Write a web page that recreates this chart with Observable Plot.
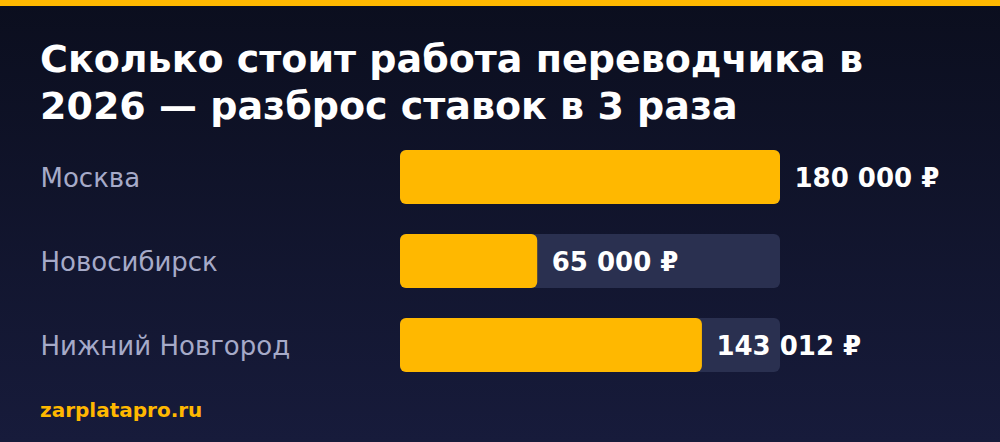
<!DOCTYPE html>
<html>
<head>
<meta charset="utf-8">
<script src="https://cdn.jsdelivr.net/npm/d3@7"></script>
<script src="https://cdn.jsdelivr.net/npm/@observablehq/plot@0.6"></script>
<style>
  html, body { margin: 0; padding: 0; }
  body {
    width: 1000px; height: 442px; overflow: hidden; position: relative;
    background: linear-gradient(180deg, #0b0e1e 0%, #171b3b 100%);
    font-family: "DejaVu Sans", sans-serif;
  }
  .stripe { position: absolute; left: 0; top: 0; width: 1000px; height: 6px; background: #ffb800; }
  h1 {
    position: absolute; left: 40px; top: 36px; margin: 0; width: 900px;
    font-family: "DejaVu Sans", sans-serif; font-weight: bold; font-size: 38px;
    line-height: 47px; color: #ffffff;
  }
  #chart { position: absolute; left: 0; top: 140px; }
  .footer {
    position: absolute; left: 40px; top: 398px;
    font-family: "DejaVu Sans", sans-serif; font-weight: bold; font-size: 20px; color: #ffb800;
  }
</style>
</head>
<body>
<div class="stripe"></div>
<h1>Сколько стоит работа переводчика в 2026 — разброс ставок в 3 раза</h1>
<div id="chart"></div>
<div class="footer">zarplatapro.ru</div>
<script>
const cities = ["Москва", "Новосибирск", "Нижний Новгород"];
const salaries = [180000, 65000, 143012];
const maxValue = 180000;

const data = cities.map((c, i) => ({city: c, value: salaries[i], max: maxValue}));
const fmt = d3.formatLocale({thousands: " ", grouping: [3], decimal: ","}).format(",d");

const chart = Plot.plot({
  width: 1000,
  height: 250,
  marginLeft: 400,
  marginRight: 220,
  marginTop: 10,
  marginBottom: 18,
  style: {background: "transparent", fontFamily: "DejaVu Sans, sans-serif", overflow: "visible"},
  x: {domain: [0, maxValue], axis: null},
  y: {domain: cities, paddingInner: 30 / 84, paddingOuter: 0, label: null},
  marks: [
    Plot.barX(data, {y: "city", x1: 0, x2: "max", fill: "#2a3050", rx: 6}),
    Plot.barX(data, {y: "city", x1: 0, x2: "value", fill: "#ffb800", rx: 6}),
    Plot.text(data, {
      y: "city", x: "value", text: d => fmt(d.value) + " ₽",
      textAnchor: "start", dx: 14, dy: 1, fill: "#ffffff", fontWeight: "bold", fontSize: 26
    }),
    Plot.axisY({
      tickSize: 0, tickPadding: 360, textAnchor: "start", fontSize: 26, dy: 1,
      fill: "#a6aac8", label: null
    })
  ]
});
document.getElementById("chart").appendChild(chart);
</script>
</body>
</html>
